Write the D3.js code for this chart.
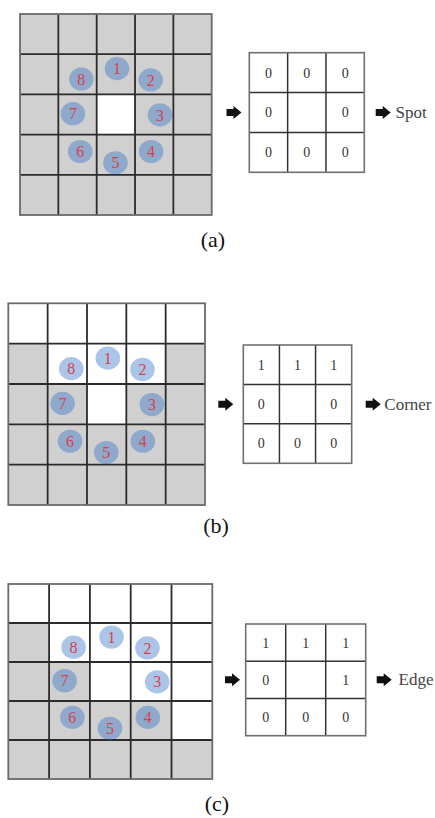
<!DOCTYPE html>
<html>
<head>
<meta charset="utf-8">
<script src="https://cdn.jsdelivr.net/npm/d3@7"></script>
<style>
  html, body { margin: 0; padding: 0; background: #fff; }
  svg { display: block; }
</style>
</head>
<body>
<svg id="fig" width="435" height="818"></svg>
<script>
// ---- data ----------------------------------------------------------------
const panelLabels = ["(a)", "(b)", "(c)"];
const featureNames = ["Spot", "Corner", "Edge"];

// 5x5 neighbourhood per panel: "1" = bright pixel (white), "0" = dark pixel (grey)
const brightMasks = [
  ["00000", "00000", "00100", "00000", "00000"],
  ["11111", "01110", "00100", "00000", "00000"],
  ["11111", "01111", "00111", "00001", "00000"]
];

// the eight sampled neighbours around the centre pixel, in grid units
const neighborIds  = [1, 2, 3, 4, 5, 6, 7, 8];
const neighborCols = [2.53, 3.41, 3.65, 3.42, 2.49, 1.57, 1.38, 1.60];
const neighborRows = [1.36, 1.64, 2.51, 3.42, 3.70, 3.42, 2.48, 1.62];

// binary code of each neighbour (null = centre pixel)
const binaryCodes = [
  [[0, 0, 0], [0, null, 0], [0, 0, 0]],
  [[1, 1, 1], [0, null, 0], [0, 0, 0]],
  [[1, 1, 1], [0, null, 1], [0, 0, 0]]
];

// ---- layout ----------------------------------------------------------------
const layout = [
  { grid: [20, 211.7, 14, 215],    code: [249.3, 364.3, 52.7, 172.3], arrowIn: 226.5, arrowOut: 375.7, text: 395.5, label: [213, 247] },
  { grid: [8.3, 205, 303.3, 505],  code: [243.3, 351.7, 345, 463.3],  arrowIn: 218.3, arrowOut: 365.7, text: 384.3, label: [216, 533] },
  { grid: [8.3, 212.3, 584, 779],  code: [245.7, 365.7, 624, 735.7],  arrowIn: 225,   arrowOut: 376.7, text: 398.5, label: [217, 811] }
];

const svg = d3.select("#fig");
const serif = "'Liberation Serif', 'DejaVu Serif', serif";

// block arrow pointing right, drawn around its vertical centre
function blockArrow(g, x0, yc) {
  const w = 15, h = 13, tail = 7, th = 7;
  const pts = [
    [x0, yc - th / 2], [x0 + tail, yc - th / 2], [x0 + tail, yc - h / 2],
    [x0 + w, yc], [x0 + tail, yc + h / 2], [x0 + tail, yc + th / 2], [x0, yc + th / 2]
  ];
  g.append("path").attr("d", d3.line()(pts) + "Z").attr("fill", "#111");
}

panelLabels.forEach((label, p) => {
  const L = layout[p];
  const g = svg.append("g");

  // --- 5x5 pixel neighbourhood
  const x = d3.scaleLinear().domain([0, 5]).range([L.grid[0], L.grid[1]]);
  const y = d3.scaleLinear().domain([0, 5]).range([L.grid[2], L.grid[3]]);
  const cells = [];
  brightMasks[p].forEach((row, r) => row.split("").forEach((v, c) => cells.push({ r, c, bright: v === "1" })));

  g.selectAll("rect.px").data(cells).join("rect")
    .attr("x", d => x(d.c)).attr("y", d => y(d.r))
    .attr("width", d => x(d.c + 1) - x(d.c)).attr("height", d => y(d.r + 1) - y(d.r))
    .attr("fill", d => d.bright ? "#ffffff" : "#d0d0d0");

  const ticks = d3.range(1, 5);
  g.selectAll("line.v").data(ticks).join("line")
    .attr("x1", d => x(d)).attr("x2", d => x(d)).attr("y1", y(0)).attr("y2", y(5))
    .attr("stroke", "#2b2b2b").attr("stroke-width", 1.8);
  g.selectAll("line.h").data(ticks).join("line")
    .attr("y1", d => y(d)).attr("y2", d => y(d)).attr("x1", x(0)).attr("x2", x(5))
    .attr("stroke", "#2b2b2b").attr("stroke-width", 1.8);
  g.append("rect")
    .attr("x", x(0)).attr("y", y(0)).attr("width", x(5) - x(0)).attr("height", y(5) - y(0))
    .attr("fill", "none").attr("stroke", "#6a6a6a").attr("stroke-width", 1.8);

  // --- sampled neighbours
  const nb = neighborIds.map((id, i) => ({ id, c: neighborCols[i], r: neighborRows[i] }));
  const ng = g.selectAll("g.nb").data(nb).join("g")
    .attr("transform", d => `translate(${x(d.c)},${y(d.r)})`);
  ng.append("ellipse").attr("rx", 12.3).attr("ry", 11.6)
    .attr("fill", "rgb(52,115,199)").attr("fill-opacity", 0.41);
  ng.append("text").text(d => d.id)
    .attr("text-anchor", "middle").attr("dy", "0.35em")
    .attr("font-family", serif).attr("font-size", 16)
    .attr("fill", "#d9404c");

  // --- 3x3 binary code
  const cx = d3.scaleLinear().domain([0, 3]).range([L.code[0], L.code[1]]);
  const cy = d3.scaleLinear().domain([0, 3]).range([L.code[2], L.code[3]]);
  const codeCells = [];
  binaryCodes[p].forEach((row, r) => row.forEach((v, c) => codeCells.push({ r, c, v })));

  g.append("rect")
    .attr("x", cx(0)).attr("y", cy(0)).attr("width", cx(3) - cx(0)).attr("height", cy(3) - cy(0))
    .attr("fill", "#fff");
  const t3 = d3.range(1, 3);
  g.selectAll("line.cv").data(t3).join("line")
    .attr("x1", d => cx(d)).attr("x2", d => cx(d)).attr("y1", cy(0)).attr("y2", cy(3))
    .attr("stroke", "#333").attr("stroke-width", 1.5);
  g.selectAll("line.ch").data(t3).join("line")
    .attr("y1", d => cy(d)).attr("y2", d => cy(d)).attr("x1", cx(0)).attr("x2", cx(3))
    .attr("stroke", "#333").attr("stroke-width", 1.5);
  g.append("rect")
    .attr("x", cx(0)).attr("y", cy(0)).attr("width", cx(3) - cx(0)).attr("height", cy(3) - cy(0))
    .attr("fill", "none").attr("stroke", "#707070").attr("stroke-width", 1.6);

  g.selectAll("text.code").data(codeCells.filter(d => d.v !== null)).join("text")
    .attr("x", d => cx(d.c + 0.5)).attr("y", d => cy(d.r + 0.5))
    .attr("dy", "0.35em").attr("text-anchor", "middle")
    .attr("font-family", serif).attr("font-size", 14).attr("fill", "#333")
    .text(d => d.v);

  // --- arrows and feature name
  const midY = cy(1.5);
  blockArrow(g, L.arrowIn, midY);
  blockArrow(g, L.arrowOut, midY);
  g.append("text").text(featureNames[p])
    .attr("x", L.text).attr("y", midY).attr("dy", "0.32em")
    .attr("font-family", serif).attr("font-size", 17).attr("fill", "#444");

  // --- panel label
  g.append("text").text(label)
    .attr("x", L.label[0]).attr("y", L.label[1]).attr("text-anchor", "middle")
    .attr("font-family", serif).attr("font-size", 22).attr("fill", "#111");
});
</script>
</body>
</html>
